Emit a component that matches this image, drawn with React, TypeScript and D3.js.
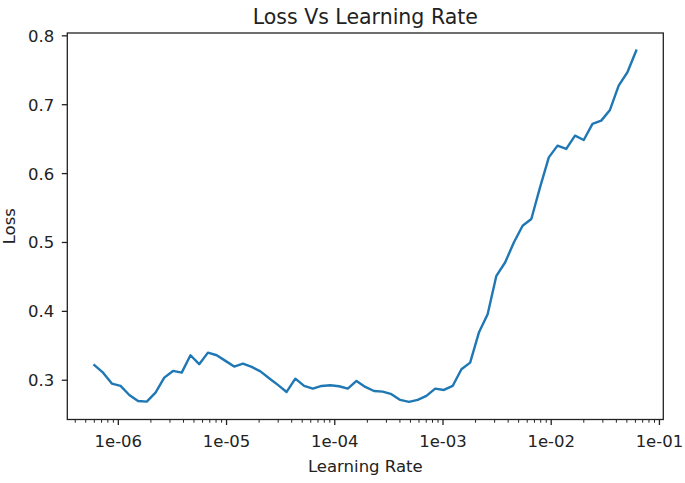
import { useMemo } from "react";
import * as d3 from "d3";

// Learning rates swept during the range test
const LEARNING_RATES = [
  6.01e-7, 7.23e-7, 8.71e-7, 1.049e-6, 1.263e-6, 1.521e-6, 1.832e-6, 2.207e-6,
  2.658e-6, 3.2e-6, 3.855e-6, 4.64e-6, 5.59e-6, 6.73e-6, 8.11e-6, 9.77e-6,
  1.176e-5, 1.417e-5, 1.707e-5, 2.055e-5, 2.475e-5, 2.98e-5, 3.59e-5, 4.32e-5,
  5.21e-5, 6.27e-5, 7.55e-5, 9.09e-5, 1.095e-4, 1.319e-4, 1.588e-4, 1.913e-4,
  2.304e-4, 2.775e-4, 3.342e-4, 4.025e-4, 4.85e-4, 5.84e-4, 7.03e-4, 8.47e-4,
  1.02e-3, 1.228e-3, 1.48e-3, 1.782e-3, 2.146e-3, 2.585e-3, 3.113e-3, 3.749e-3,
  4.515e-3, 5.44e-3, 6.55e-3, 7.88e-3, 9.5e-3, 1.144e-2, 1.377e-2, 1.659e-2,
  1.998e-2, 2.406e-2, 2.898e-2, 3.49e-2, 4.2e-2, 5.06e-2, 6.1e-2,
];

const LOSSES = [
  0.3218, 0.311, 0.2951, 0.2917, 0.2786, 0.2699, 0.2689, 0.282,
  0.3038, 0.3135, 0.311, 0.3363, 0.3233, 0.3401, 0.3363, 0.3281,
  0.3198, 0.3241, 0.3193, 0.3128, 0.3029, 0.2932, 0.283, 0.3023,
  0.2917, 0.2878, 0.2917, 0.2927, 0.2913, 0.2878, 0.299, 0.2903,
  0.2844, 0.2834, 0.2797, 0.2714, 0.2685, 0.2714, 0.2772, 0.2878,
  0.2859, 0.2917, 0.316, 0.3256, 0.3692, 0.3959, 0.4516, 0.4709,
  0.5, 0.5243, 0.534, 0.5799, 0.6235, 0.6406, 0.6358, 0.6551,
  0.6488, 0.6721, 0.6769, 0.6924, 0.7278, 0.7471, 0.7786,
];

const X_TICKS = [1e-6, 1e-5, 1e-4, 1e-3, 1e-2, 1e-1];
const X_TICK_LABELS = ["1e-06", "1e-05", "1e-04", "1e-03", "1e-02", "1e-01"];
const Y_TICKS = [0.3, 0.4, 0.5, 0.6, 0.7, 0.8];

const W = 685;
const H = 483;
const FRAME = { left: 67.3, right: 663.3, top: 33, bottom: 419.5 };
const FONT = "'DejaVu Sans', sans-serif";
const LINE_COLOR = "#1f77b4";

export default function App() {
  const points = LEARNING_RATES.map((lr, i) => ({ lr, loss: LOSSES[i] }));

  const { x, y, path, minor } = useMemo(() => {
    // matplotlib-style 5% autoscale margins (in log space for x)
    const [lo, hi] = d3.extent(LEARNING_RATES) as [number, number];
    const lspan = Math.log10(hi) - Math.log10(lo);
    const x = d3
      .scaleLog()
      .domain([
        10 ** (Math.log10(lo) - lspan * 0.05),
        10 ** (Math.log10(hi) + lspan * 0.05),
      ])
      .range([FRAME.left, FRAME.right]);

    const [ymin, ymax] = d3.extent(LOSSES) as [number, number];
    const pad = (ymax - ymin) * 0.05;
    const y = d3
      .scaleLinear()
      .domain([ymin - pad, ymax + pad])
      .range([FRAME.bottom, FRAME.top]);

    const line = d3
      .line<{ lr: number; loss: number }>()
      .x((d) => x(d.lr))
      .y((d) => y(d.loss));

    const [d0, d1] = x.domain();
    const minor: number[] = [];
    for (let k = -8; k <= 0; k++) {
      for (let m = 2; m <= 9; m++) {
        const v = m * 10 ** k;
        if (v >= d0 && v <= d1) minor.push(v);
      }
    }
    return { x, y, path: line(points) ?? "", minor };
  }, []);

  const cx = (FRAME.left + FRAME.right) / 2;
  const cy = (FRAME.top + FRAME.bottom) / 2;

  return (
    <svg
      width={W}
      height={H}
      style={{ position: "absolute", left: 0, top: 0, background: "#fff" }}
      fontFamily={FONT}
    >
      <rect width={W} height={H} fill="#fff" />

      <path
        d={path}
        fill="none"
        stroke={LINE_COLOR}
        strokeWidth={2.4}
        strokeLinejoin="round"
        strokeLinecap="square"
      />

      {/* frame */}
      <rect
        x={FRAME.left}
        y={FRAME.top}
        width={FRAME.right - FRAME.left}
        height={FRAME.bottom - FRAME.top}
        fill="none"
        stroke="#222"
        strokeWidth={1.3}
      />

      {/* y axis */}
      {Y_TICKS.map((t) => (
        <g key={t}>
          <line
            x1={FRAME.left - 5.5}
            x2={FRAME.left}
            y1={y(t)}
            y2={y(t)}
            stroke="#222"
            strokeWidth={1.3}
          />
          <text
            x={FRAME.left - 13}
            y={y(t)}
            dy="0.36em"
            textAnchor="end"
            fontSize={16.5}
            fill="#222"
          >
            {t.toFixed(1)}
          </text>
        </g>
      ))}

      {/* x axis, major + minor log ticks */}
      {minor.map((t) => (
        <line
          key={t}
          x1={x(t)}
          x2={x(t)}
          y1={FRAME.bottom}
          y2={FRAME.bottom + 3.2}
          stroke="#222"
          strokeWidth={1}
        />
      ))}
      {X_TICKS.map((t, i) => (
        <g key={t}>
          <line
            x1={x(t)}
            x2={x(t)}
            y1={FRAME.bottom}
            y2={FRAME.bottom + 5.5}
            stroke="#222"
            strokeWidth={1.3}
          />
          <text
            x={x(t)}
            y={FRAME.bottom + 27}
            textAnchor="middle"
            fontSize={16.5}
            fill="#222"
          >
            {X_TICK_LABELS[i]}
          </text>
        </g>
      ))}

      <text x={cx} y={472} textAnchor="middle" fontSize={16.5} fill="#222">
        Learning Rate
      </text>
      <text
        transform={`translate(${15},${cy}) rotate(-90)`}
        textAnchor="middle"
        fontSize={16.5}
        fill="#222"
      >
        Loss
      </text>
      <text x={cx} y={24} textAnchor="middle" fontSize={20.5} fill="#222">
        Loss Vs Learning Rate
      </text>
    </svg>
  );
}
